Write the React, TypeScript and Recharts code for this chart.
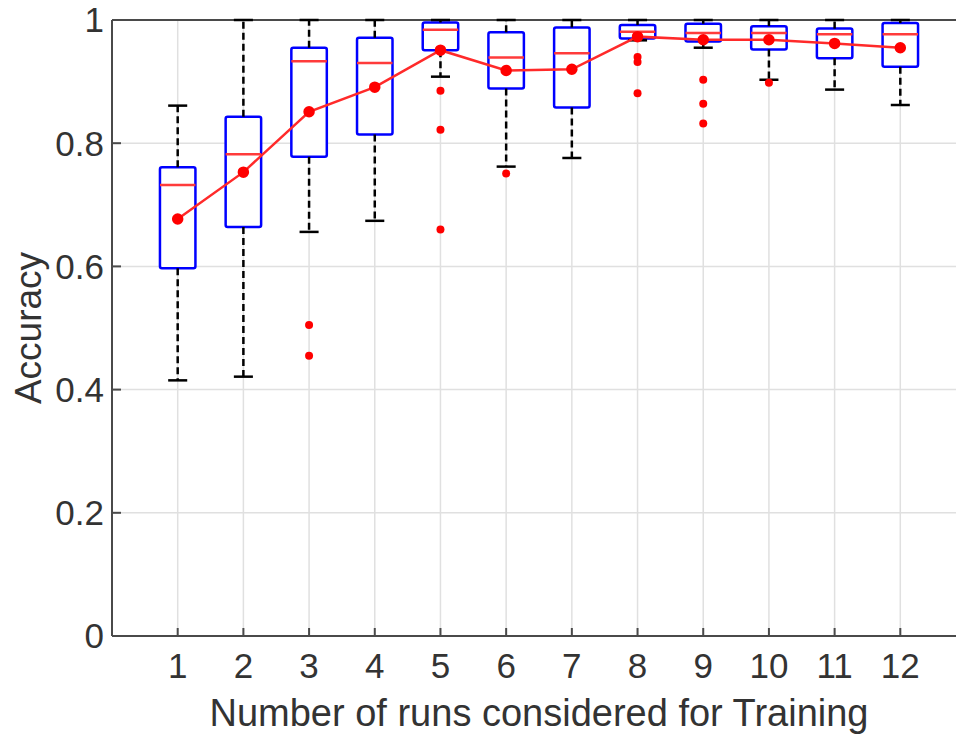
import React from 'react';
import {
  ComposedChart,
  Line,
  Scatter,
  XAxis,
  YAxis,
  CartesianGrid,
  ReferenceArea,
  ReferenceLine,
} from 'recharts';

// runs used for training (x positions)
const runs = [1, 2, 3, 4, 5, 6, 7, 8, 9, 10, 11, 12];

// box statistics
const q1 = [0.597, 0.664, 0.778, 0.814, 0.951, 0.889, 0.858, 0.970, 0.965, 0.952, 0.938, 0.924];
const q3 = [0.761, 0.843, 0.955, 0.971, 0.996, 0.980, 0.988, 0.992, 0.994, 0.990, 0.986, 0.995];
const medians = [0.732, 0.782, 0.933, 0.930, 0.984, 0.939, 0.946, 0.981, 0.979, 0.979, 0.977, 0.977];
const means = [0.677, 0.753, 0.851, 0.891, 0.951, 0.918, 0.920, 0.973, 0.968, 0.968, 0.962, 0.955];
const upperWhisker = [0.861, 1, 1, 1, 1, 1, 1, 1, 1, 1, 1, 1];
const lowerWhisker = [0.415, 0.421, 0.656, 0.674, 0.908, 0.762, 0.776, 0.967, 0.955, 0.903, 0.887, 0.862];

// outliers: [run, accuracy]
const outlierRuns = [3, 3, 5, 5, 5, 6, 8, 8, 8, 9, 9, 9, 10];
const outlierValues = [0.505, 0.455, 0.885, 0.822, 0.66, 0.751, 0.94, 0.932, 0.881, 0.903, 0.864, 0.832, 0.898];

const yTicks = [0, 0.2, 0.4, 0.6, 0.8, 1];

const meanRows = runs.map((x, i) => ({ x, mean: means[i] }));
const outlierRows = outlierRuns.map((x, i) => ({ x, y: outlierValues[i] }));

const FONT = 'Liberation Sans, Arial, sans-serif';
const TEXT = '#333';
const AXIS = '#4a4a4a';
const BOX_HALF = 0.27;
const CAP_HALF = 0.145;

const YTitle = (props: any) => {
  const vb = props.viewBox || { x: 0, y: 20, width: 112, height: 616 };
  const cx = vb.x + 41;
  const cy = vb.y + vb.height / 2;
  return (
    <text
      x={cx}
      y={cy}
      transform={`rotate(-90 ${cx} ${cy})`}
      textAnchor="middle"
      fontSize={37}
      fontFamily={FONT}
      fill={TEXT}
    >
      Accuracy
    </text>
  );
};

const OutlierDot = (props: any) => (
  <circle cx={props.cx} cy={props.cy} r={4} fill="#ff0000" />
);

const App: React.FC = () => {
  return (
    <div style={{ position: 'absolute', left: 0, top: 0, width: 956, height: 736, overflow: 'hidden', background: '#fff' }}>
      <ComposedChart
        width={966}
        height={736}
        data={meanRows}
        margin={{ top: 20, right: 0, bottom: 0, left: 0 }}
      >
        <CartesianGrid stroke="#e0e0e0" strokeWidth={1.5} />
        <XAxis
          type="number"
          dataKey="x"
          domain={[0, 13]}
          ticks={runs}
          interval={0}
          height={100}
          tickSize={-8}
          tickMargin={25}
          stroke={AXIS}
          strokeWidth={2}
          tick={{ fontSize: 35, fill: TEXT, fontFamily: FONT }}
          label={{
            value: 'Number of runs considered for Training',
            position: 'insideBottom',
            offset: 10,
            fontSize: 38,
            fill: TEXT,
            fontFamily: FONT,
          }}
        />
        <YAxis
          type="number"
          domain={[0, 1]}
          ticks={yTicks}
          interval={0}
          width={112}
          tickSize={-9}
          tickMargin={17}
          stroke={AXIS}
          strokeWidth={2}
          tick={{ fontSize: 35, fill: TEXT, fontFamily: FONT }}
          label={<YTitle />}
        />
        <ReferenceLine y={1} stroke={AXIS} strokeWidth={2} />

        {/* whiskers */}
        {runs.map((r, i) => (
          <ReferenceLine
            key={`wu${r}`}
            segment={[{ x: r, y: q3[i] }, { x: r, y: upperWhisker[i] }]}
            stroke="#000"
            strokeWidth={2.5}
            strokeDasharray="7 4"
          />
        ))}
        {runs.map((r, i) => (
          <ReferenceLine
            key={`wl${r}`}
            segment={[{ x: r, y: q1[i] }, { x: r, y: lowerWhisker[i] }]}
            stroke="#000"
            strokeWidth={2.5}
            strokeDasharray="7 4"
          />
        ))}
        {runs.map((r, i) => (
          <ReferenceLine
            key={`cu${r}`}
            segment={[{ x: r - CAP_HALF, y: upperWhisker[i] }, { x: r + CAP_HALF, y: upperWhisker[i] }]}
            stroke="#000"
            strokeWidth={2.5}
          />
        ))}
        {runs.map((r, i) => (
          <ReferenceLine
            key={`cl${r}`}
            segment={[{ x: r - CAP_HALF, y: lowerWhisker[i] }, { x: r + CAP_HALF, y: lowerWhisker[i] }]}
            stroke="#000"
            strokeWidth={2.5}
          />
        ))}

        {/* boxes */}
        {runs.map((r, i) => (
          <ReferenceArea
            key={`b${r}`}
            x1={r - BOX_HALF}
            x2={r + BOX_HALF}
            y1={q1[i]}
            y2={q3[i]}
            stroke="#0000ff"
            strokeWidth={2.5}
            fill="#ffffff"
            fillOpacity={1}
            radius={2}
          />
        ))}

        {/* medians */}
        {runs.map((r, i) => (
          <ReferenceLine
            key={`m${r}`}
            segment={[{ x: r - BOX_HALF, y: medians[i] }, { x: r + BOX_HALF, y: medians[i] }]}
            stroke="#ff3b3b"
            strokeWidth={2.5}
          />
        ))}

        <Line
          dataKey="mean"
          stroke="#ff2a2a"
          strokeWidth={2.5}
          dot={{ r: 4.5, fill: '#ff0000', stroke: '#ff0000' }}
          isAnimationActive={false}
        />
        <Scatter data={outlierRows} dataKey="y" shape={<OutlierDot />} isAnimationActive={false} />
      </ComposedChart>
    </div>
  );
};

export default App;
